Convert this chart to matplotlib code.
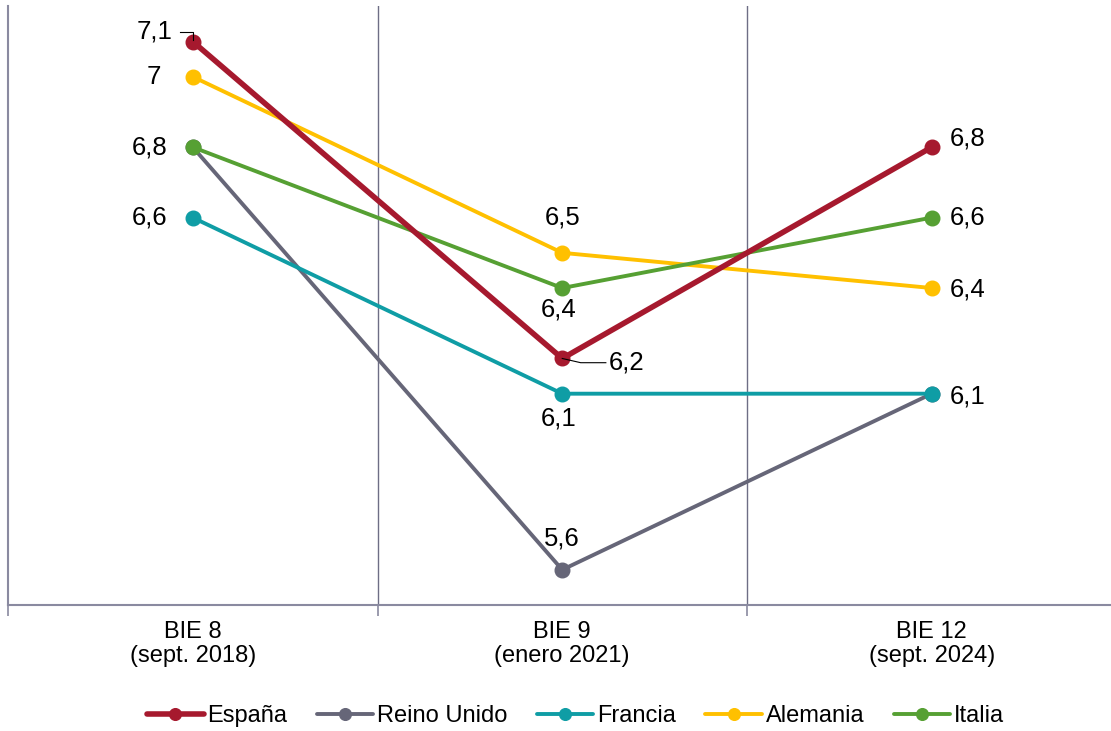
import numpy as np
import matplotlib.pyplot as plt

plt.rcParams['font.family'] = ['Liberation Sans', 'DejaVu Sans']

categorias = ["BIE 8\n(sept. 2018)", "BIE 9\n(enero 2021)", "BIE 12\n(sept. 2024)"]
paises = ["España", "Reino Unido", "Francia", "Alemania", "Italia"]
espana = [7.1, 6.2, 6.8]
reino_unido = [6.8, 5.6, 6.1]
francia = [6.6, 6.1, 6.1]
alemania = [7.0, 6.5, 6.4]
italia = [6.8, 6.4, 6.6]

colores = ["#A6192E", "#666678", "#0F9DA5", "#FFC000", "#56A033"]
series = [espana, reino_unido, francia, alemania, italia]
grosor = [4, 2.8, 2.8, 2.8, 2.8]
capas = [9, 3, 5, 6, 7]

def fmt(v):
    return ("%g" % v).replace(".", ",")

fig = plt.figure(figsize=(11.11, 7.31), dpi=100)
W, H = 1111, 731
ax = fig.add_axes([8 / W, (H - 605) / H, 1108.5 / W, 598.7 / H])

x = np.arange(len(categorias))
for i in range(len(series)):
    ax.plot(x, series[i], color=colores[i], lw=grosor[i], marker="o", markersize=10.5,
            label=paises[i], solid_capstyle="round", zorder=capas[i])

ax.set_xlim(-0.5, 2.5)
ax.set_ylim(5.5, 7.2)
ax.set_yticks([])
ax.set_xticks([])
ax.set_xticks([-0.5, 0.5, 1.5, 2.5], minor=True)
ax.tick_params(axis="x", which="minor", length=8, width=1.2, color="#8A8AA0", direction="out")
for s in ["top", "right"]:
    ax.spines[s].set_visible(False)
for s in ["left", "bottom"]:
    ax.spines[s].set_color("#8A8AA0")
    ax.spines[s].set_linewidth(1.5)
for b in [0.5, 1.5]:
    ax.axvline(b, color="#6E6E85", lw=1, zorder=1)

for i, c in enumerate(categorias):
    ax.text(i, 5.5 - 0.045, c, ha="center", va="top", fontsize=17, linespacing=1.15,
            clip_on=False)

fs = 18.5
# etiquetas izquierda (BIE 8)
ax.text(-0.054, espana[0] + 0.028, fmt(espana[0]), ha="right", va="center", fontsize=fs)
ax.plot([-0.035, 0.0, 0.0], [espana[0] + 0.028, espana[0] + 0.028, espana[0] + 0.005],
        color="black", lw=0.8, zorder=10)
ax.text(-0.087, alemania[0], fmt(alemania[0]), ha="right", va="center", fontsize=fs)
ax.text(-0.068, italia[0], fmt(italia[0]), ha="right", va="center", fontsize=fs)
ax.text(-0.068, francia[0], fmt(francia[0]), ha="right", va="center", fontsize=fs)

# BIE 9
ax.text(1, alemania[1] + 0.1, fmt(alemania[1]), ha="center", va="center", fontsize=fs)
ax.text(0.99, italia[1] - 0.06, fmt(italia[1]), ha="center", va="center", fontsize=fs)
ax.text(1.125, espana[1] - 0.012, fmt(espana[1]), ha="left", va="center", fontsize=fs)
ax.plot([1.0, 1.05, 1.118], [espana[1], espana[1] - 0.012, espana[1] - 0.012],
        color="black", lw=0.8, zorder=10)
ax.text(0.99, francia[1] - 0.07, fmt(francia[1]), ha="center", va="center", fontsize=fs)
ax.text(1, reino_unido[1] + 0.09, fmt(reino_unido[1]), ha="center", va="center", fontsize=fs)

# BIE 12
ax.text(2.05, espana[2] + 0.025, fmt(espana[2]), ha="left", va="center", fontsize=fs)
ax.text(2.05, italia[2], fmt(italia[2]), ha="left", va="center", fontsize=fs)
ax.text(2.05, alemania[2] - 0.005, fmt(alemania[2]), ha="left", va="center", fontsize=fs)
ax.text(2.05, francia[2] - 0.008, fmt(francia[2]), ha="left", va="center", fontsize=fs)

handles, labels = ax.get_legend_handles_labels()
fig.legend(handles, labels,
           loc="center", bbox_to_anchor=(0.518, (H - 716) / H), ncol=5, frameon=False,
           fontsize=17, handlelength=2.4, handletextpad=0.15, columnspacing=1.25,
           markerscale=0.8)

fig.savefig("out.png", dpi=100)
